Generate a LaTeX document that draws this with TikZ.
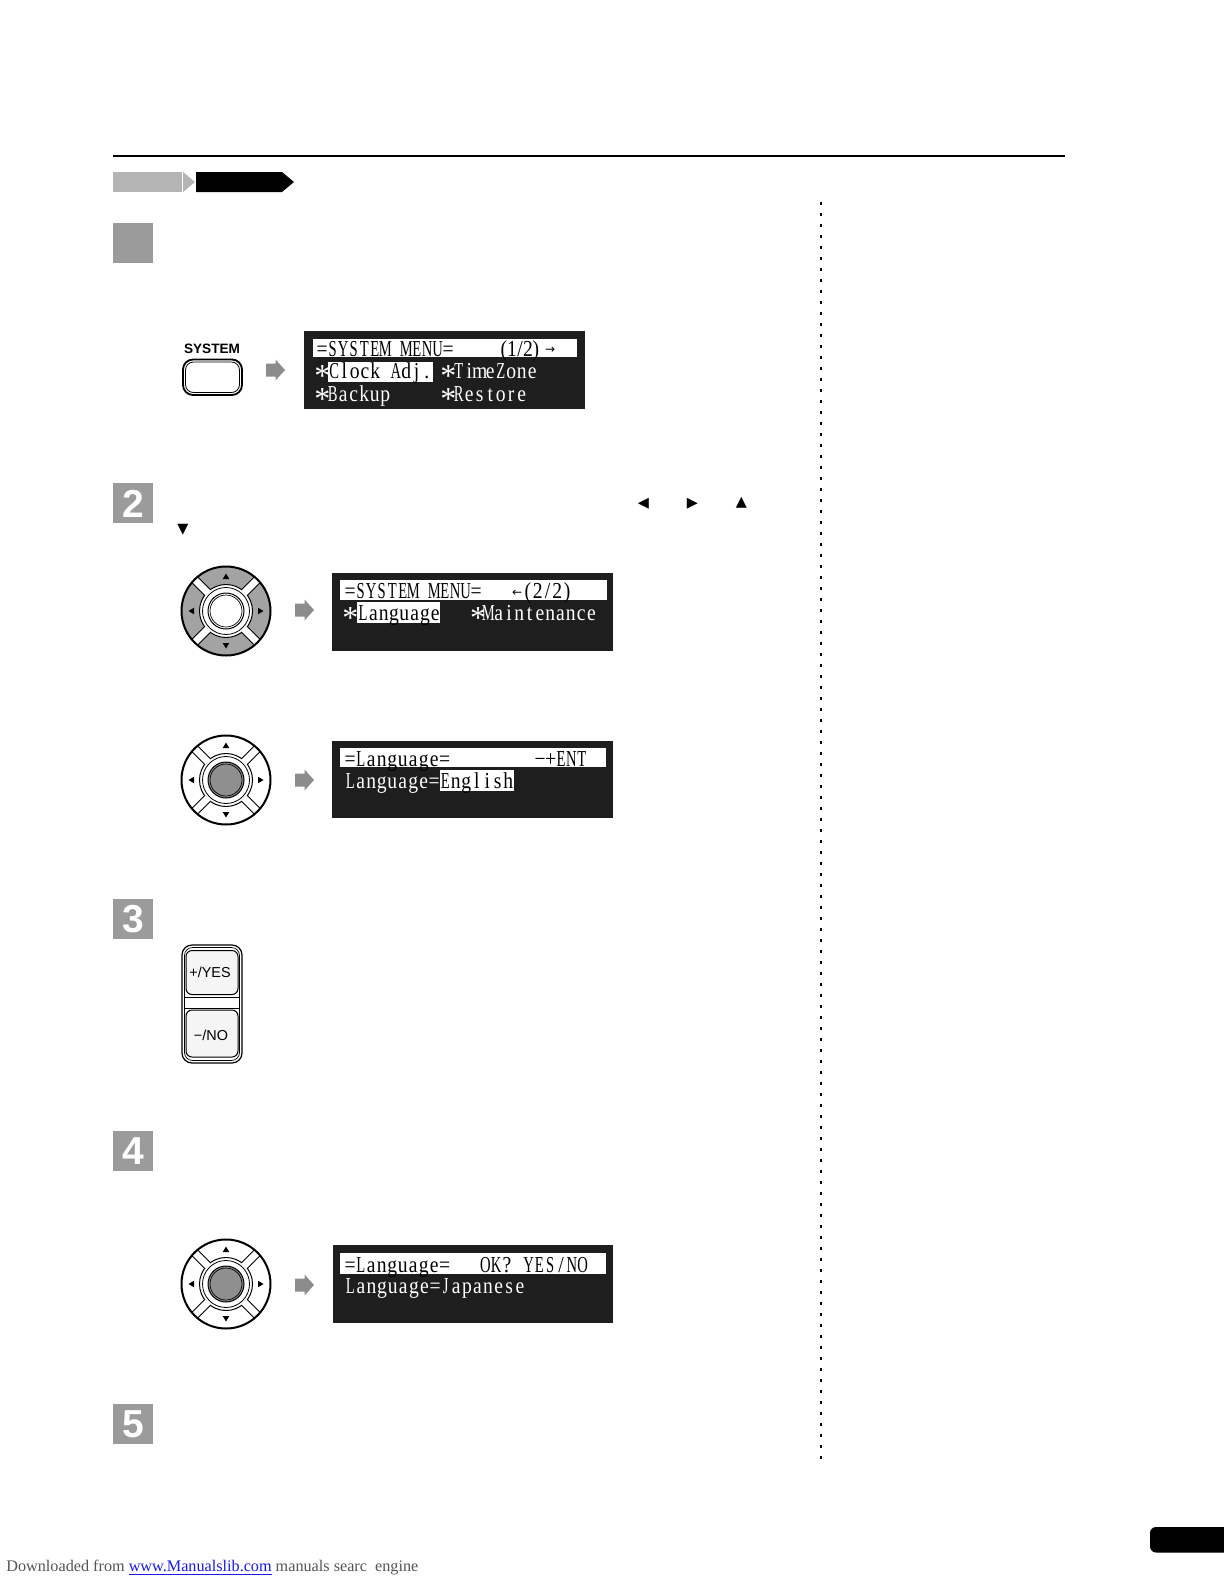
\documentclass[tikz,border=0pt]{standalone}
\usepackage{fontspec}
\usepackage{graphicx}
\setmainfont{Liberation Serif}
\newfontfamily\sansf{Liberation Sans}
\newfontfamily\symf{DejaVu Sans}
\newfontfamily\lcdf{Liberation Serif}
\usetikzlibrary{calc}
\definecolor{stepgray}{HTML}{9B9B9B}
\definecolor{barlight}{HTML}{B4B4B4}
\definecolor{arrowgray}{HTML}{8C8C8C}
\definecolor{padgray}{HTML}{A3A3A3}
\definecolor{btngray}{HTML}{8F8F8F}
\definecolor{lcdbg}{HTML}{1E1E1E}
\definecolor{footgray}{HTML}{555555}
\definecolor{linkblue}{HTML}{1A1AE6}
\newlength\lcdp
\setlength\lcdp{5.25pt}
\def\lcdchar#1{\ifx*#1\raisebox{-4pt}{\scalebox{1.4}{*}}\else\ifnum\uccode`#1=`#1\relax\scalebox{0.64}[1]{#1}\else\scalebox{0.86}[1]{#1}\fi\fi}
\def\lcdgo#1{\ifx\relax#1\else\makebox[\lcdp][c]{\lcdchar{#1}}\expandafter\lcdgo\fi}
\newcommand\lcd[2][5.25pt]{\setlength\lcdp{#1}{\lcdf\fontsize{11.4pt}{12pt}\selectfont\lcdgo#2\relax}}
\tikzset{
  lcdtxt/.style={anchor=base west, inner sep=0pt, outer sep=0pt, text=white, text height=8pt, text depth=1pt},
  lcdinv/.style={lcdtxt, text=black},
  stepbox/.style={fill=stepgray, minimum width=20pt, minimum height=20pt, inner sep=0pt, anchor=north west, text=white, font=\sansf\bfseries\fontsize{19.5pt}{20pt}\selectfont},
  glyph/.style={inner sep=0pt, font=\symf\fontsize{7.2pt}{8pt}\selectfont},
  btnlabel/.style={inner sep=0pt, font=\sansf\fontsize{7.2pt}{8pt}\selectfont},
  pics/garr/.style={code={\fill[arrowgray] (0,-6.5) -- (9.5,-6.5) -- (9.5,-10.5) -- (19,0) -- (9.5,10.5) -- (9.5,6.5) -- (0,6.5) -- cycle;}},
  pics/dpad/.style n args={2}{code={
    \fill[#1] (0,0) circle[radius=44];
    \fill[white] (0,0) circle[radius=26.5];
    \draw[line width=0.5pt] (0,0) circle[radius=26.5];
    \foreach \a in {45,135,225,315} {
      \draw[line width=4.5pt] (\a:26.3) -- (\a:44);
      \draw[white, line width=3.5pt] (\a:25.5) -- (\a:44);
    }
    \draw[line width=1pt] (0,0) circle[radius=44.5];
    \draw[line width=0.4pt] (0,0) circle[radius=23.5];
    \filldraw[fill=#2, line width=0.5pt] (0,0) circle[radius=18];
    \draw[line width=0.35pt] (0,0) circle[radius=16];
    \fill (-3.3,-32) -- (3.3,-32) -- (0,-37.5) -- cycle;
    \fill (-3.3,32) -- (3.3,32) -- (0,37.5) -- cycle;
    \fill (-32,-3.3) -- (-32,3.3) -- (-37.5,0) -- cycle;
    \fill (32,-3.3) -- (32,3.3) -- (37.5,0) -- cycle;
  }}
}
\begin{document}
\begin{tikzpicture}[x=0.5pt,y=-0.5pt]
\useasboundingbox[fill=white] (0,0) rectangle (1224,1584);

% top rule and header arrows
\draw[line width=1pt] (113,155.5) -- (1065,155.5);
\fill[barlight] (113,172) rectangle (182,192);
\fill[barlight] (183,172) -- (195,182) -- (183,192) -- cycle;
\fill[black] (196,172) -- (282,172) -- (294,182) -- (282,192) -- (196,192) -- cycle;

% dotted separator
\draw[line width=1pt, dash pattern=on 1.5pt off 4pt] (821,202) -- (821,1464);

% step boxes
\node[stepbox] (s1) at (113,223) {};
\node[stepbox] (s2) at (113,483) {2};
\node[stepbox] (s3) at (113,899) {3};
\node[stepbox] (s4) at (113,1131) {4};
\node[stepbox] (s5) at (113,1404) {5};

% ---------- step 1 ----------
\node[inner sep=0pt, font=\sansf\bfseries\fontsize{6.8pt}{8pt}\selectfont] (sysl) at (212,349) {SYSTEM};
\draw[line width=0.9pt, rounded corners=5pt] (183,359.5) rectangle (242,395);
\draw[line width=0.4pt, rounded corners=4pt] (185.5,362) rectangle (239.5,392.5);
\pic (a1) at (266,370) {garr};

\fill[lcdbg] (304,331) rectangle (585,409);
\fill[white] (313,339) rectangle (577,357);
\fill[white] (328,362) rectangle (433,382);
\node[lcdinv] (m1a) at (317,356) {\lcd{=SYSTEM~MENU=}};
\node[lcdinv] (m1b) at (500,356) {\lcd[4pt]{(1/2)}};
\node[lcdinv, font=\symf\fontsize{6pt}{7pt}\selectfont] (m1c) at (545,353) {→};
\node[lcdtxt] (m1d) at (317,378.5) {\lcd{*}};
\node[lcdinv] (m1e) at (329,378.5) {\lcd[5.15pt]{Clock~Adj.}};
\node[lcdtxt] (m1f) at (443,378.5) {\lcd{*TimeZone}};
\node[lcdtxt] (m1g) at (317,401) {\lcd{*Backup}};
\node[lcdtxt] (m1h) at (443,401) {\lcd{*Restore}};

% ---------- step 2 ----------
\node[glyph] (gl) at (643.5,503.5) {◀};
\node[glyph] (gr) at (692.5,503.5) {▶};
\node[glyph] (gu) at (741.5,503) {▲};
\node[glyph] (gd) at (183,530) {▼};

\pic (p1) at (226,611) {dpad={padgray}{white}};
\pic (a2) at (295,610) {garr};
\fill[lcdbg] (332,573) rectangle (613,651);
\fill[white] (340,580) rectangle (607,600);
\fill[white] (357,602) rectangle (440,623);
\node[lcdinv] (m2a) at (345,598) {\lcd{=SYSTEM~MENU=}};
\node[lcdinv, font=\symf\fontsize{6pt}{7pt}\selectfont] (m2b) at (512,596) {←};
\node[lcdinv] (m2c) at (523,598) {\lcd[4.9pt]{(2/2)}};
\node[lcdtxt] (m2d) at (345,620) {\lcd{*}};
\node[lcdinv] (m2e) at (358,620) {\lcd[5.15pt]{Language}};
\node[lcdtxt] (m2f) at (473,620) {\lcd[5.15pt]{*Maintenance}};

\pic (p2) at (226,780) {dpad={white}{btngray}};
\pic (a3) at (295,780) {garr};
\fill[lcdbg] (332,741) rectangle (613,818);
\fill[white] (340,748) rectangle (606,767);
\fill[white] (440,770) rectangle (514,791);
\node[lcdinv] (m3a) at (345,766) {\lcd{=Language=}};
\node[lcdinv] (m3b) at (535,766) {\lcd[5.2pt]{−+ENT}};
\node[lcdtxt] (m3c) at (345,788) {\lcd{Language=}};
\node[lcdinv] (m3d) at (440,788) {\lcd{English}};

% ---------- step 3 ----------
\draw[line width=0.6pt, rounded corners=5pt] (182,945) rectangle (242,1063);
\draw[line width=0.35pt, rounded corners=4pt] (184.5,947.5) rectangle (239.5,1060.5);
\draw[line width=0.35pt] (184.5,997) -- (239.5,997);
\draw[line width=0.35pt] (184.5,1008.5) -- (239.5,1008.5);
\filldraw[fill=gray!8, line width=0.5pt, rounded corners=3pt] (186,950.5) rectangle (238,994.5);
\filldraw[fill=gray!8, line width=0.5pt, rounded corners=3pt] (186,1010) rectangle (238,1057);
\node[btnlabel] (yes) at (210,972) {+/YES};
\node[btnlabel] (no) at (211,1035) {−/NO};

% ---------- step 4 ----------
\pic (p3) at (226,1284) {dpad={white}{btngray}};
\pic (a4) at (295,1285) {garr};
\fill[lcdbg] (333,1245) rectangle (613,1323);
\fill[white] (340,1253) rectangle (606,1274);
\node[lcdinv] (m4a) at (345,1272) {\lcd{=Language=}};
\node[lcdinv] (m4b) at (480,1272) {\lcd[5.4pt]{OK?~YES/NO}};
\node[lcdtxt] (m4c) at (345,1293) {\lcd[5.3pt]{Language=Japanese}};

% ---------- footer ----------
\fill[black, rounded corners=3pt] (1240,1527) -- (1150,1527) -- (1150,1552.5) -- (1240,1552.5) -- cycle;
\node[anchor=base west, inner sep=0pt, text=footgray, font=\fontsize{8.1pt}{9pt}\selectfont] (foot) at (6,1571) {Downloaded from \textcolor{linkblue}{\underline{www.Manualslib.com}} manuals searc\ \ engine};
\end{tikzpicture}
\end{document}
